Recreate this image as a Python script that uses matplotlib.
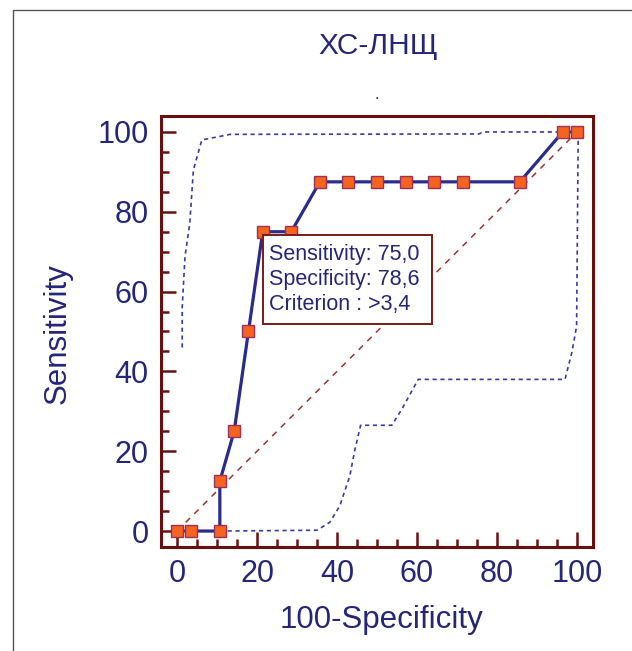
import matplotlib
matplotlib.use("Agg")
import matplotlib.pyplot as plt
from matplotlib.patches import Rectangle
from matplotlib.ticker import MultipleLocator

plt.rcParams['font.family'] = ['Liberation Sans', 'DejaVu Sans']

# ROC data
fpr = [0, 3.57, 10.71, 10.71, 14.29, 17.86, 21.43, 28.57, 35.71, 42.86, 50.0,
       57.14, 64.29, 71.43, 85.71, 96.43, 100.0]
sens = [0, 0, 0, 12.5, 25.0, 50.0, 75.0, 75.0, 87.5, 87.5, 87.5,
        87.5, 87.5, 87.5, 87.5, 100.0, 100.0]

# confidence bounds
upper_x = [1.3, 1.3, 2.0, 3.2, 4.1, 6.2, 13.3, 75.5, 76.5, 100.0]
upper_y = [46.0, 56.0, 68.8, 77.2, 90.5, 98.0, 99.4, 99.5, 100.0, 100.0]
lower_x = [10.7, 35.0, 38.2, 40.7, 43.2, 44.5, 45.9, 53.7, 56.2, 60.3, 97.0, 98.7, 99.9, 100.3]
lower_y = [0.0, 0.2, 2.2, 6.3, 13.8, 20.5, 26.5, 26.5, 30.5, 38.0, 38.0, 44.7, 51.3, 99.7]

title = "ХС-ЛНЩ"
xlabel = "100-Specificity"
ylabel = "Sensitivity"
crit_x, crit_y = 21.43, 75.0
annot_lines = ["Sensitivity: 75,0", "Specificity: 78,6", "Criterion : >3,4"]
ticks = [0, 20, 40, 60, 80, 100]

navy = '#25257a'
maroon = '#6a0f0f'

fig = plt.figure(figsize=(6.32, 6.51), dpi=100)
ax = fig.add_axes([161/632, 1-547/651, 432/632, 431/651])

ax.plot([0, 100], [0, 100], ls=(0, (4, 4)), color='#a03030', lw=1.1, zorder=2)
ax.plot(upper_x, upper_y, ls=(0, (2.5, 2.2)), color='#3a3aa5', lw=1.2, zorder=2)
ax.plot(lower_x, lower_y, ls=(0, (2.5, 2.2)), color='#3a3aa5', lw=1.2, zorder=2)
ax.plot(fpr, sens, color='#2b2b8f', lw=2.3, marker='s', markersize=9,
        markerfacecolor='#f5641e', markeredgecolor='#a0305a', markeredgewidth=1.0, zorder=4)

ax.set_xlim(-4, 104)
ax.set_ylim(-4, 104)
ax.set_xticks(ticks)
ax.set_yticks(ticks)
ax.xaxis.set_minor_locator(MultipleLocator(5))
ax.yaxis.set_minor_locator(MultipleLocator(5))
ax.tick_params(which='major', direction='in', length=10.5, width=1.8, color=maroon,
               labelsize=22, labelcolor=navy, pad=9)
ax.tick_params(which='minor', direction='in', length=6, width=1.8, color=maroon)
ax.tick_params(axis='y', which='both', right=False)
ax.tick_params(axis='x', which='both', top=False)
for s in ax.spines.values():
    s.set_color(maroon)
    s.set_linewidth(2.2)

# annotation box for the criterion point
box_w, box_h, box_dy = 42.4, 22.3, 0.75
ax.add_patch(Rectangle((crit_x, crit_y - box_dy - box_h), box_w, box_h, fc='white',
                       ec='#7a1a1a', lw=1.4, zorder=6))
for i, line in enumerate(annot_lines):
    ax.text(crit_x + 1.5, crit_y - 7.2 - 6.15 * i, line, ha='left', va='baseline',
            fontsize=15.5, color=navy, zorder=7)

fig.text(381/632, 1-628/651, xlabel, ha='center', va='baseline', fontsize=22.5, color=navy)
fig.text(66/632, 1-334/651, ylabel, ha='center', va='baseline', rotation=90,
         rotation_mode='anchor', fontsize=22.5, color=navy)

fig.text(378/632, 1-46/651, title, ha='center', va='center', fontsize=21.5, color=navy)
fig.text(377/632, 1-99/651, ".", ha='center', va='baseline', fontsize=12, color=navy)

fig.patches.append(Rectangle((13/632, -0.1), 1.2, 1 - 10/651 + 0.1, transform=fig.transFigure,
                             fill=False, ec='#555555', lw=1.0))

fig.savefig("out.png", dpi=100)
